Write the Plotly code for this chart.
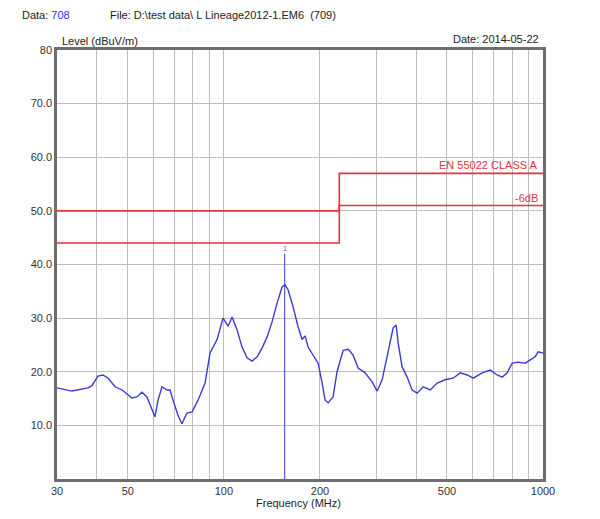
import plotly.graph_objects as go

# ---- data ----
freq_mhz = [30, 33.4, 37.5, 38.6, 40.3, 41.8, 43.4, 45.6, 48.0, 51.5, 53.4, 55.4, 57.4,
            59.5, 60.8, 62.2, 64.0, 66.3, 67.8, 69.3, 71.8, 73.9, 76.6, 79.5, 83.0, 87.3,
            90.5, 95.2, 99.4, 103.1, 106.1, 110.0, 114.0, 118.2, 122.6, 127.1, 131.7,
            136.6, 141.6, 146.8, 152.2, 155.5, 158.9, 164.8, 170.8, 175.8, 179.7, 183.6,
            190.4, 197.4, 203.2, 207.6, 212.2, 219.9, 226.3, 236.4, 245.1, 254.1, 263.5,
            277.1, 291.5, 302.2, 313.3, 327.2, 339.2, 346.6, 351.6, 361.9, 375.2, 389.0,
            403.3, 421.2, 443.0, 466.0, 493.6, 523.0, 550.1, 578.6, 604.2, 644.9, 683.2,
            718.5, 745.0, 772.4, 800.6, 836.0, 879.5, 911.8, 945.1, 965.8, 1000]
level_dbuv = [17.0, 16.4, 17.0, 17.4, 19.2, 19.4, 18.8, 17.2, 16.6, 15.1, 15.3, 16.2, 15.3,
              13.2, 11.6, 14.7, 17.2, 16.6, 16.6, 14.7, 11.9, 10.3, 12.3, 12.5, 14.7, 17.9,
              23.5, 26.0, 30.0, 28.5, 30.2, 27.8, 24.6, 22.6, 22.0, 22.8, 24.4, 26.5, 29.3,
              32.8, 35.8, 36.2, 35.3, 32.1, 28.4, 26.0, 26.7, 24.6, 23.1, 21.6, 17.9, 14.7,
              14.2, 15.3, 20.0, 24.0, 24.2, 23.1, 20.7, 19.8, 18.1, 16.4, 18.5, 23.5, 28.2,
              28.7, 25.4, 20.9, 19.0, 16.6, 16.0, 17.2, 16.6, 17.9, 18.5, 18.8, 19.8, 19.4,
              18.8, 19.8, 20.3, 19.4, 19.0, 19.8, 21.6, 21.8, 21.6, 22.2, 22.8, 23.7, 23.5]

limit_freq = [30, 230, 230, 1000]
class_a_limit = [50, 50, 57, 57]
margin_limit = [44, 44, 51, 51]

marker_freq = [155, 155]
marker_level = [0, 42]

x_tick_vals = [30, 40, 50, 60, 70, 80, 90, 100, 200, 300, 400, 500, 600, 700, 800, 900, 1000]
x_tick_text = ["30", "", "50", "", "", "", "", "100", "200", "", "", "500", "", "", "", "", "1000"]
y_tick_vals = [0, 10, 20, 30, 40, 50, 60, 70, 80]
y_tick_text = ["", "10.0", "20.0", "30.0", "40.0", "50.0", "60.0", "70.0", "80"]

FONT = "Liberation Sans, Arial, sans-serif"
RED = "#e2323c"
BLUE = "#3b3bd2"

fig = go.Figure()
fig.add_trace(go.Scatter(x=limit_freq, y=class_a_limit, mode="lines",
                         line=dict(color=RED, width=1.6), hoverinfo="skip"))
fig.add_trace(go.Scatter(x=limit_freq, y=margin_limit, mode="lines",
                         line=dict(color=RED, width=1.6), hoverinfo="skip"))
fig.add_trace(go.Scatter(x=marker_freq, y=marker_level, mode="lines",
                         line=dict(color="#5a5ad8", width=1.2), hoverinfo="skip"))
fig.add_trace(go.Scatter(x=freq_mhz, y=level_dbuv, mode="lines",
                         line=dict(color=BLUE, width=1.4)))

fig.update_layout(
    width=584, height=503,
    margin=dict(l=49, r=49, t=42, b=32),
    paper_bgcolor="white", plot_bgcolor="white",
    showlegend=False,
    font=dict(family=FONT, size=11, color="#222"),
    xaxis=dict(type="log", range=[1.4771, 3.0], tickvals=x_tick_vals, ticktext=x_tick_text,
               showgrid=True, gridcolor="#bdbdbd", gridwidth=1.3,
               showline=True, linecolor="#6e6e6e", linewidth=2.5, mirror=True,
               ticks="", zeroline=False, tickfont=dict(size=11, color="#333")),
    yaxis=dict(range=[0, 80], tickvals=y_tick_vals, ticktext=y_tick_text,
               showgrid=True, gridcolor="#bdbdbd", gridwidth=1.3,
               showline=True, linecolor="#6e6e6e", linewidth=2.5, mirror=True,
               ticks="", zeroline=False, tickfont=dict(size=11, color="#333")),
)

ann = [
    dict(xref="paper", yref="paper", x=-0.076, y=1.082, xanchor="left", yanchor="middle",
         text="Data: <span style='color:#2b2bff'>708</span>"),
    dict(xref="paper", yref="paper", x=0.105, y=1.082, xanchor="left", yanchor="middle",
         text="File: D:\\test data\\ L Lineage2012-1.EM6  (709)"),
    dict(xref="paper", yref="paper", x=0.006, y=1.022, xanchor="left", yanchor="middle",
         text="Level (dBuV/m)"),
    dict(xref="paper", yref="paper", x=0.996, y=1.026, xanchor="right", yanchor="middle",
         text="Date: 2014-05-22"),
    dict(xref="paper", yref="paper", x=0.496, y=-0.056, xanchor="center", yanchor="middle",
         text="Frequency (MHz)"),
    dict(xref="x", yref="y", x=3.0, y=57, xanchor="right", yanchor="bottom", xshift=-3,
         text="EN 55022 CLASS A", font=dict(color=RED, size=11, family=FONT)),
    dict(xref="x", yref="y", x=3.0, y=51, xanchor="right", yanchor="bottom", xshift=-3,
         text="-6dB", font=dict(color=RED, size=11, family=FONT)),
    dict(xref="x", yref="y", x=2.1903, y=42, xanchor="center", yanchor="bottom",
         text="1", font=dict(color="#5a5ad8", size=7, family=FONT)),
]
for a in ann:
    a["showarrow"] = False
fig.update_layout(annotations=ann)

fig.write_html("out.html")
